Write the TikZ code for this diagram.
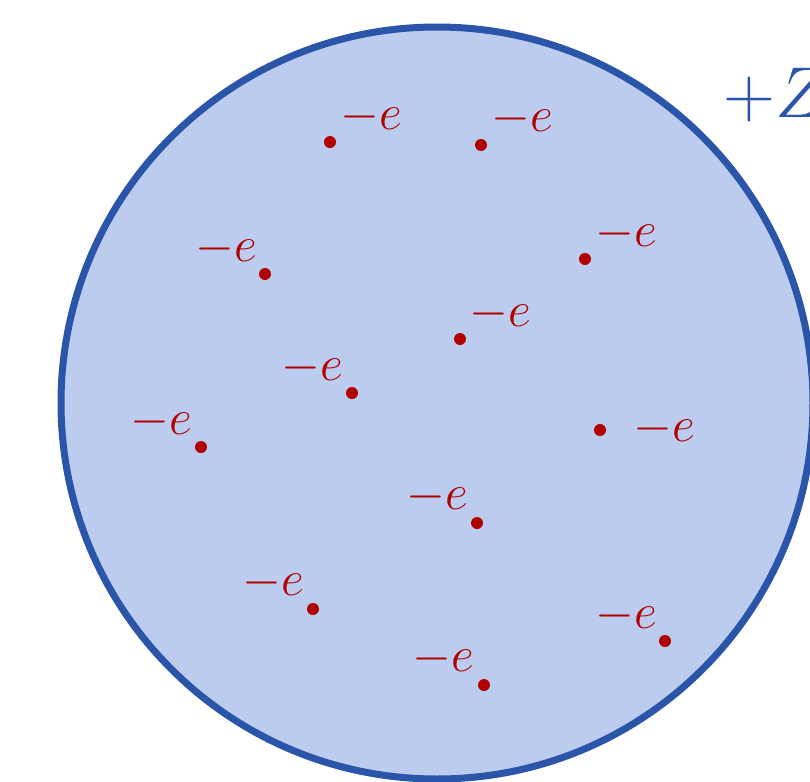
\RequirePackage{fix-cm}
\documentclass[tikz,border=0pt]{standalone}
\definecolor{ringblue}{HTML}{2A55A8}
\definecolor{fillblue}{HTML}{BCCCEE}
\definecolor{elred}{HTML}{B00000}
\tikzset{
  electron/.style={circle,fill=elred,inner sep=0pt,minimum size=6pt},
  elabel/.style={text=elred,inner sep=0pt,font=\fontsize{25}{29}\selectfont},
}
\begin{document}
\begin{tikzpicture}[x=0.5pt,y=-0.5pt]
\useasboundingbox (0,0) rectangle (810,782);
\clip (0,0) rectangle (810,782);
\node[circle,draw=ringblue,fill=fillblue,line width=3.5pt,minimum size=376pt,inner sep=0pt] (nucleus) at (437,403) {};
\node[text=ringblue,inner sep=0pt,font=\fontsize{36}{40}\selectfont,anchor=base west] (charge) at (723,117) {$+Z$};
\foreach \name/\dx/\dy/\lx/\ly in {
  e1/330/142/371/117, e2/481/145/522/119, e3/265/274/226/249,
  e4/585/259/626/234, e5/460/339/500/314, e6/352/393/312/368,
  e7/201/447/161/422, e8/600/430/664/429, e9/477/523/437/497,
  e10/313/609/273/583, e11/665/641/626/616, e12/484/685/443/659}{
  \node[electron] (\name) at (\dx,\dy) {};
  \node[elabel] (\name-l) at (\lx,\ly) {$-e$};
}
\end{tikzpicture}
\end{document}
